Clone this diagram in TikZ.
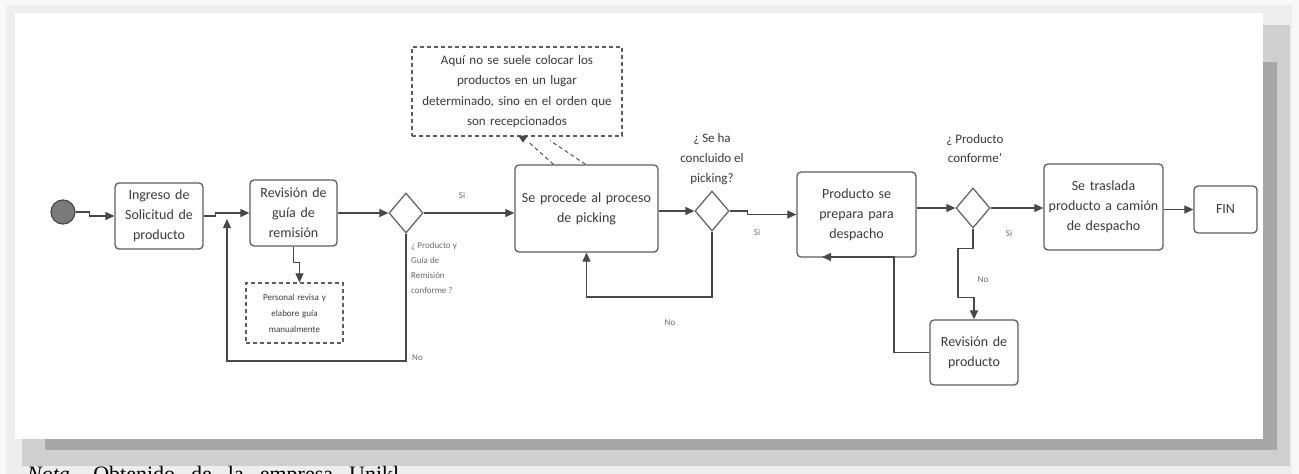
\documentclass[tikz,border=0pt]{standalone}
\usepackage{fontspec}
\setmainfont{Carlito}
\newfontfamily\capfont{Liberation Serif}
\usetikzlibrary{arrows.meta,shapes.geometric,calc}
\definecolor{boxc}{HTML}{5E5E5E}
\definecolor{linec}{HTML}{484848}
\definecolor{txt}{HTML}{3A3A3A}
\definecolor{labc}{HTML}{6A6A6A}
\definecolor{bgout}{HTML}{F8F8F8}
\definecolor{bgband}{HTML}{EEEEEE}
\definecolor{shlight}{HTML}{CFCFCF}
\definecolor{shdark}{HTML}{A6A6A6}
\definecolor{startc}{HTML}{7A7A7A}
\begin{document}
\begin{tikzpicture}[x=1pt,y=-1pt,
  box/.style={draw=boxc, line width=1.3pt, rounded corners=4pt, fill=white, align=center,
    inner sep=0pt, font=\fontsize{14}{20}\selectfont, text=txt},
  note/.style={draw=boxc, dash pattern=on 4pt off 3pt, line width=1.1pt, fill=white, align=center,
    inner sep=0pt, text=txt},
  dia/.style={draw=boxc, shape=diamond, line width=1.2pt, minimum width=34pt, minimum height=40pt,
    inner sep=0pt, fill=white},
  conn/.style={draw=linec, line width=1.2pt, -{Triangle[length=9pt,width=8pt]}},
  lab/.style={font=\fontsize{9}{15}\selectfont, text=labc, inner sep=0pt},
  qlab/.style={font=\fontsize{13}{20}\selectfont, text=txt, align=center, inner sep=0pt}
]
% frame and shadow
\useasboundingbox (0,0) rectangle (1299,474);
\fill[bgout] (0,0) rectangle (1299,474);
\fill[bgband] (6,5) rectangle (1292,474);
\fill[shlight] (22,25) rectangle (1290,466);
\fill[shdark] (45,62) rectangle (1277,450);
\fill[white] (15,13) rectangle (1263,439);
\node[anchor=base west, font=\capfont\fontsize{22}{26}\selectfont, inner sep=0pt, text=black] (cap) at (27,481)
  {\spaceskip=16pt\textit{Nota.} Obtenido de la empresa Unikl};

% nodes
\node[circle, draw=linec, line width=1.2pt, fill=startc, minimum size=24pt, inner sep=0pt] (start) at (63,212) {};
\node[box, minimum width=88pt, minimum height=66pt, text width=80pt] (ingreso) at (159,216) {Ingreso de\\Solicitud de\\producto};
\node[box, minimum width=87pt, minimum height=66pt, text width=80pt] (revision) at (293.5,213) {Revisión de\\guía de\\remisión};
\node[note, minimum width=97pt, minimum height=60pt, text width=90pt, font=\fontsize{9}{16}\selectfont] (personal) at (294.5,313) {Personal revisa y\\elabore guía\\manualmente};
\node[dia] (d1) at (406,213) {};
\node[box, minimum width=143pt, minimum height=87pt, text width=136pt] (picking) at (586.5,208.5) {Se procede al proceso\\de picking};
\node[note, minimum width=210pt, minimum height=89pt, text width=204pt, font=\fontsize{13}{20.5}\selectfont] (nota) at (517,91.5)
  {Aquí no se suele colocar los\\productos en un lugar\\determinado, sino en el orden que\\son recepcionados};
\node[dia] (d2) at (712,211) {};
\node[box, minimum width=119pt, minimum height=85pt, text width=112pt] (prepara) at (856.5,214.5) {Producto se\\prepara para\\despacho};
\node[dia] (d3) at (973,208) {};
\node[box, minimum width=119pt, minimum height=86pt, text width=112pt] (traslada) at (1103.5,207) {Se traslada\\producto a camión\\de despacho};
\node[box, minimum width=63pt, minimum height=47pt, text width=56pt] (fin) at (1225.5,209.5) {FIN};
\node[box, minimum width=88pt, minimum height=65pt, text width=80pt] (revprod) at (974,352.5) {Revisión de\\producto};

% helper coordinates
\coordinate (c1) at (227,361);
\coordinate (j1) at (227,219);
\coordinate (c2) at (586.5,297);
\coordinate (c3) at (894,257);
\coordinate (c4) at (822,257);

% connectors
\draw[conn] (start.east) -- ++(14,0) |- (ingreso.west);
\draw[conn] (ingreso.east) -- ++(12,0) |- (revision.west);
\draw[conn] (revision.east) -- (d1.west);
\draw[conn] (d1.east) -- (d1.east -| picking.west);
\draw[conn] (d1.south) |- (c1) -- (j1);
\draw[conn, line width=0.8pt] (revision.south) -- ++(0,16) -| ([xshift=5pt]personal.north);
\draw[draw=linec, line width=0.9pt, dash pattern=on 4pt off 3pt] ($(picking.north)+(-33,0)$) -- ($(nota.south)+(11,5)$);
\draw[draw=linec, line width=0.9pt, dash pattern=on 4pt off 3pt] ($(picking.north)+(-1,0)$) -- ($(nota.south)+(33,4)$);
\fill[linec] ($(nota.south)+(1,-1)$) -- ($(nota.south)+(11,-1)$) -- ($(nota.south)+(6,6)$) -- cycle;
\draw[conn] (picking.east |- d2.west) -- (d2.west);
\draw[conn] (d2.east) -- ++(18,0) |- (prepara.west);
\draw[conn] (d2.south) |- (c2) -- (picking.south);
\draw[conn] (prepara.east |- d3.west) -- (d3.west);
\draw[conn] (d3.east) -- (d3.east -| traslada.west);
\draw[conn] (traslada.east |- fin.west) -- (fin.west);
\draw[conn] (d3.south) -- ++(0,20) -- ++(-15,0) -- ++(0,49) -| (revprod.north);
\draw[conn] (revprod.west) -| (c3) -- (c4);

% labels
\node[lab] (si1) at (462,195) {Si};
\node[lab, anchor=north west, align=left] (q1) at (411,242) {¿ Producto y\\Guía de\\Remisión\\conforme ?};
\node[lab, anchor=west] (no1) at (412,358) {No};
\node[qlab] (q2) at (712,159) {¿ Se ha\\concluido el\\picking?};
\node[lab] (si2) at (757,232) {Si};
\node[lab] (no2) at (670,323) {No};
\node[qlab, font=\fontsize{13}{19}\selectfont] (q3) at (975,149) {¿ Producto\\conforme'};
\node[lab] (si3) at (1009,233) {Si};
\node[lab] (no3) at (983,280) {No};
\end{tikzpicture}
\end{document}
